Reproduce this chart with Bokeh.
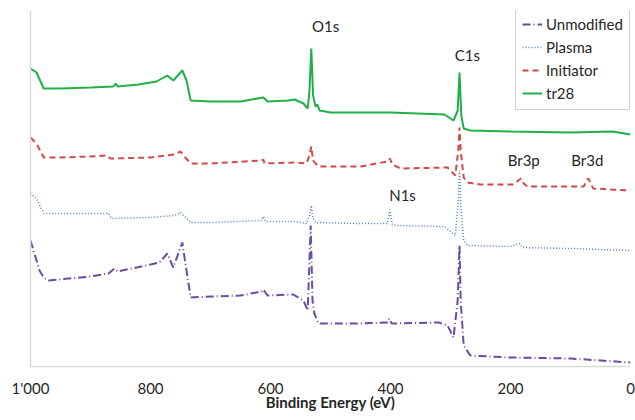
from bokeh.plotting import figure
from bokeh.models import Range1d, FixedTicker, Legend, LegendItem, ColumnDataSource
from bokeh.core.properties import value
from bokeh.embed import file_html
from bokeh.resources import INLINE

# ---- data (binding energy eV, intensity a.u. with vertical offsets) ----
e_tr28 = [1000, 990, 978, 950, 900, 862, 858, 855, 820, 790, 772, 762, 747, 740, 733, 700, 650,
          612, 605, 570, 560, 545, 538, 535, 532, 529, 525, 522, 518, 500, 400, 310, 295, 288,
          285, 282, 278, 267, 200, 100, 30, 0]
v_tr28 = [298, 294, 278, 278, 279, 280, 283, 280, 282, 285, 291, 286, 296, 286, 266, 265, 265,
          269, 265, 266, 267, 263, 258, 276, 318, 271, 260, 262, 256, 254, 254, 252, 246, 256,
          294, 251, 238, 236, 235, 234, 235, 232]

e_init = [1000, 990, 978, 950, 900, 872, 867, 800, 760, 750, 745, 733, 700, 615, 612, 610, 560,
          540, 535, 532, 529, 525, 520, 450, 405, 401, 397, 383, 305, 292, 287, 285, 283, 278,
          272, 250, 195, 185, 182, 178, 172, 100, 78, 72, 70, 66, 62, 0]
v_init = [229, 223, 209, 209, 210, 211, 208, 209, 212, 215, 211, 203, 203, 206, 207, 203, 204,
          203, 211, 220, 206, 203, 200, 200, 205, 208, 202, 198, 199, 191, 216, 239, 216, 189,
          184, 182, 182, 187, 188, 183, 180, 180, 180, 187, 188, 182, 178, 176]

e_plasma = [1000, 990, 978, 900, 870, 865, 800, 760, 750, 745, 733, 700, 615, 612, 608, 560,
            540, 535, 532, 529, 525, 450, 405, 401, 397, 390, 310, 292, 287, 285, 283, 278, 272,
            200, 185, 180, 100, 0]
v_plasma = [173, 168, 153, 153, 153, 148, 149, 151, 154, 151, 144, 144, 146, 150, 145, 145,
            143, 151, 161, 148, 144, 143, 143, 157, 142, 141, 140, 131, 166, 196, 161, 126, 121,
            120, 123, 119, 118, 116]

e_unmod = [1000, 995, 985, 978, 970, 900, 870, 860, 855, 800, 785, 772, 762, 747, 740, 733, 700,
           650, 615, 612, 605, 562, 545, 538, 533, 530, 527, 520, 450, 405, 402, 398, 320, 305,
           295, 288, 285, 283, 278, 267, 200, 100, 0]
v_unmod = [126, 116, 96, 89, 86, 90, 93, 98, 95, 102, 104, 113, 99, 124, 96, 69, 70,
           71, 75, 77, 71, 72, 66, 56, 141, 66, 53, 43, 43, 44, 48, 43, 44, 41,
           29, 66, 121, 66, 21, 11, 9, 8, 4]

x_ticks = [0, 200, 400, 600, 800, 1000]
tick_labels = {1000: "1'000"}

peak_names = ["O1s", "C1s", "N1s", "Br3p", "Br3d"]
peak_x = [508, 272, 380, 178, 72]
peak_y = [341, 312, 172, 207, 207]

FONT = "Lato"
TXT = "#262626"

p = figure(frame_width=600, frame_height=356, min_border_left=30, min_border_right=5,
           min_border_top=10, min_border_bottom=54, output_backend="svg",
           toolbar_location=None, x_range=Range1d(1000, 0), y_range=Range1d(0, 356))
p.outline_line_color = None
p.xgrid.visible = False
p.ygrid.visible = False

ax = p.xaxis[0]
ax.ticker = FixedTicker(ticks=x_ticks)
ax.major_label_overrides = tick_labels
ax.major_tick_out = 0
ax.major_tick_in = 0
ax.minor_tick_out = 0
ax.minor_tick_in = 0
ax.axis_line_color = "#d9d9d9"
ax.axis_line_width = 1.5
ax.major_label_text_font = FONT
ax.major_label_text_font_size = "15px"
ax.major_label_text_color = TXT
ax.major_label_standoff = 12
ax.axis_label = "Binding Energy (eV)"
ax.axis_label_text_font = FONT
ax.axis_label_text_font_style = "bold"
ax.axis_label_text_font_size = "15px"
ax.axis_label_text_color = TXT
ax.axis_label_standoff = -7

ay = p.yaxis[0]
ay.ticker = FixedTicker(ticks=[])
ay.major_tick_out = 0
ay.major_tick_in = 0
ay.minor_tick_out = 0
ay.minor_tick_in = 0
ay.major_label_standoff = 0
ay.axis_line_color = "#d9d9d9"
ay.axis_line_width = 1.5

r_un = p.line(e_unmod, v_unmod, line_color="#6a4ca0", line_width=2, line_dash="8 3 1 3")
r_pl = p.line(e_plasma, v_plasma, line_color="#4f81bd", line_width=1.5, line_dash="1 2")
r_in = p.line(e_init, v_init, line_color="#d24b4b", line_width=2, line_dash="6 4")
r_tr = p.line(e_tr28, v_tr28, line_color="#1fb04a", line_width=2)

src = ColumnDataSource(dict(x=peak_x, y=peak_y, t=peak_names))
p.text(x="x", y="y", text="t", source=src, text_align="center", text_baseline="middle",
       text_font=value(FONT), text_font_size="15px", text_color=TXT)

legend = Legend(items=[LegendItem(label="Unmodified", renderers=[r_un]),
                       LegendItem(label="Plasma", renderers=[r_pl]),
                       LegendItem(label="Initiator", renderers=[r_in]),
                       LegendItem(label="tr28", renderers=[r_tr])],
                location=(485, 256))
legend.border_line_color = "#a6a6a6"
legend.border_line_width = 1
legend.background_fill_alpha = 1
legend.label_text_font = FONT
legend.label_text_font_size = "15px"
legend.label_text_color = TXT
legend.glyph_width = 20
legend.glyph_height = 20
legend.spacing = 3
legend.padding = 6
legend.margin = 0
legend.label_standoff = 4
legend.label_height = 20
p.add_layout(legend, "center")

open("out.html", "w").write(file_html(p, INLINE))
